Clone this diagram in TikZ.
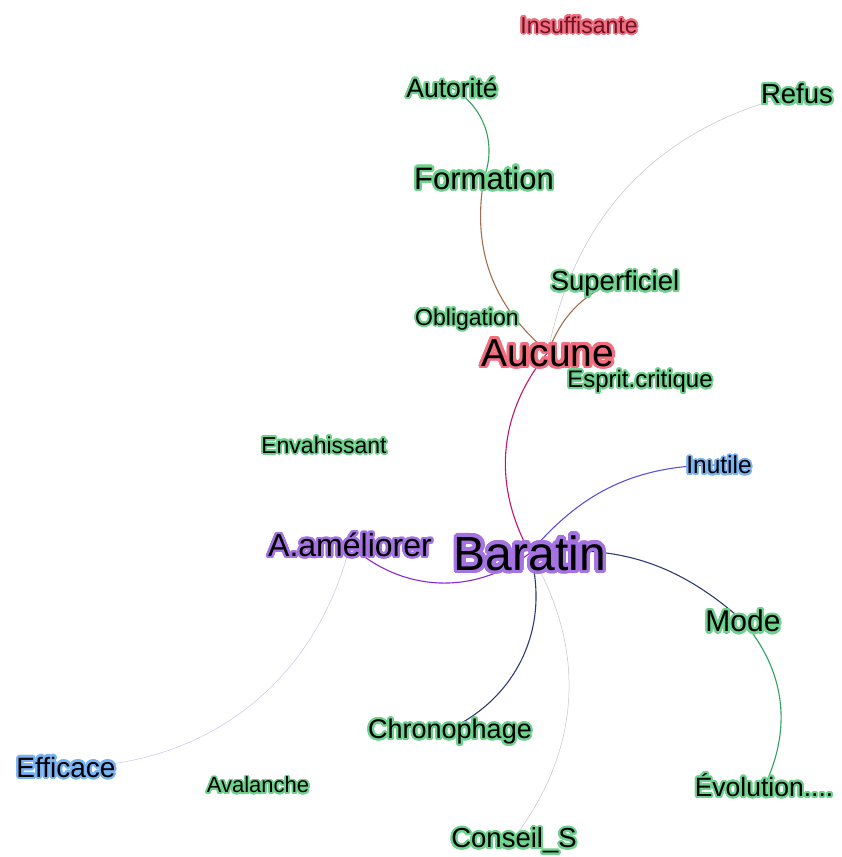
\documentclass[tikz,border=0pt]{standalone}
\usepackage{fontspec}
\setmainfont{Liberation Sans}
\usepackage{contour}
\contourlength{2pt}
\contournumber{32}
\usetikzlibrary{backgrounds}
\definecolor{glowgreen}{RGB}{110,210,140}
\definecolor{glowred}{RGB}{240,110,125}
\definecolor{glowpurple}{RGB}{165,115,225}
\definecolor{glowblue}{RGB}{120,180,245}
\definecolor{edgegreen}{RGB}{50,160,95}
\definecolor{edgebrown}{RGB}{160,110,75}
\definecolor{edgecrimson}{RGB}{195,20,110}
\definecolor{edgeblue}{RGB}{90,80,225}
\definecolor{edgenavy}{RGB}{45,60,115}
\definecolor{edgepurple}{RGB}{140,40,210}
\definecolor{edgepale}{RGB}{200,195,235}
\definecolor{edgegray}{RGB}{195,195,200}
\definecolor{darkred}{RGB}{110,20,40}
\tikzset{
  word/.style={inner sep=0pt, text height={0.72*#1pt}, text depth=0pt,
    font=\fontsize{#1}{#1}\selectfont\contourlength{0.075em}},
  link/.style={line width=1.1pt},
  faint/.style={line width=0.5pt},
}
\begin{document}
\begin{tikzpicture}[x=1pt, y=1pt]
  \useasboundingbox (0,0) rectangle (841,-857);
  % words
  \node[word=23, text=darkred] (insuffisante) at (579,-25) {\contour{glowred}{Insuffisante}};
  \node[word=26.5] (autorite) at (452,-88) {\contour{glowgreen}{Autorité}};
  \node[word=27.5] (refus) at (797,-94) {\contour{glowgreen}{Refus}};
  \node[word=31] (formation) at (484,-178) {\contour{glowgreen}{Formation}};
  \node[word=27.5] (superficiel) at (615,-281) {\contour{glowgreen}{Superficiel}};
  \node[word=23] (obligation) at (467,-317) {\contour{glowgreen}{Obligation}};
  \node[word=39] (aucune) at (548,-352) {\contour{glowred}{Aucune}};
  \node[word=24] (esprit) at (640,-379) {\contour{glowgreen}{Esprit.critique}};
  \node[word=23] (envahissant) at (324,-445) {\contour{glowgreen}{Envahissant}};
  \node[word=24.5] (inutile) at (719,-465) {\contour{glowblue}{Inutile}};
  \node[word=32] (ameliorer) at (350,-545) {\contour{glowpurple}{A.améliorer}};
  \node[word=48] (baratin) at (530,-553) {\contour{glowpurple}{Baratin}};
  \node[word=30] (mode) at (743,-621) {\contour{glowgreen}{Mode}};
  \node[word=27] (chronophage) at (450,-729) {\contour{glowgreen}{Chronophage}};
  \node[word=28] (efficace) at (66,-767) {\contour{glowblue}{Efficace}};
  \node[word=22] (avalanche) at (258,-785) {\contour{glowgreen}{Avalanche}};
  \node[word=26.5] (evolution) at (764,-787) {\contour{glowgreen}{Évolution....}};
  \node[word=27.5] (conseil) at (514,-838) {\contour{glowgreen}{Conseil\_S}};
  % links
  \begin{scope}[on background layer]
    \draw[link, edgegreen] (autorite.center) to[bend left=40] (formation.center);
    \draw[link, edgebrown] (formation.center) to[bend right=30] (aucune.center);
    \draw[link, edgebrown] (superficiel.center) to[bend right=22] (aucune.center);
    \draw[faint, edgegray] (refus.center) to[bend right=33] (aucune.center);
    \draw[link, edgecrimson] (aucune.center) to[bend right=34] (baratin.center);
    \draw[link, edgeblue] (baratin.center) to[bend left=25] (inutile.center);
    \draw[link, edgenavy] (baratin.center) to[bend left=24] (mode.center);
    \draw[link, edgegreen] (mode.center) to[bend left=33] (evolution.center);
    \draw[link, edgepurple] (ameliorer.center) to[bend right=40] (baratin.center);
    \draw[faint, edgepale] (ameliorer.center) to[bend left=38] (efficace.center);
    \draw[link, edgenavy] (baratin.center) to[bend left=40] (chronophage.center);
    \draw[faint, edgegray] (baratin.center) to[bend left=34] (conseil.center);
  \end{scope}
\end{tikzpicture}
\end{document}
